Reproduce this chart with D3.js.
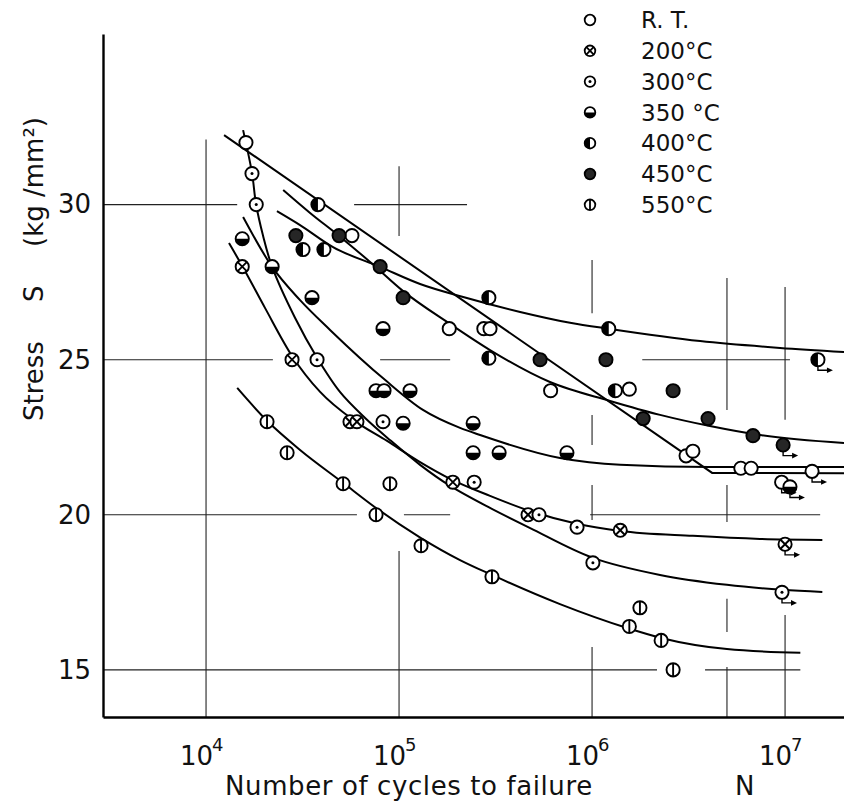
<!DOCTYPE html>
<html>
<head>
<meta charset="utf-8">
<script src="https://cdn.jsdelivr.net/npm/d3@7/dist/d3.min.js"></script>
<style>
  html, body { margin: 0; padding: 0; background: #fff; }
  svg { display: block; }
  text { font-family: "DejaVu Sans", "Liberation Sans", sans-serif; fill: #111; }
</style>
</head>
<body>
<svg id="chart" width="844" height="805"></svg>
<script>
// ---------------- data ----------------
const seriesNames = ["R. T.", "200\u00B0C", "300\u00B0C", "350 \u00B0C", "400\u00B0C", "450\u00B0C", "550\u00B0C"];
const seriesKeys  = ["rt", "t200", "t300", "t350", "t400", "t450", "t550"];

const xTickValues = [1e4, 1e5, 1e6, 1e7];
const xTickExponents = ["4", "5", "6", "7"];
const yTickValues = [15, 20, 25, 30];

// measured points [N, S]
const rtData = [[1.61e4,32.0],[5.7e4,29.0],[1.82e5,26.0],[2.75e5,26.0],[2.96e5,26.0],[6.1e5,24.0],[1.56e6,24.05],[3.07e6,21.9],[3.33e6,22.05],[5.9e6,21.5],[6.67e6,21.5]];
const rtRunout = [[9.6e6,21.05],[1.38e7,21.4]];
const t200Data = [[1.54e4,28.0],[2.79e4,25.0],[5.57e4,23.0],[6.05e4,23.0],[1.9e5,21.05],[4.66e5,20.0],[1.4e6,19.5]];
const t200Runout = [[1.0e7,19.05]];
const t300Data = [[1.73e4,31.0],[1.82e4,30.0],[3.76e4,25.0],[8.26e4,23.0],[2.45e5,21.05],[5.31e5,20.0],[8.36e5,19.6],[1.01e6,18.45]];
const t300Runout = [[9.64e6,17.5]];
const t350Data = [[1.54e4,28.9],[2.2e4,28.0],[3.54e4,27.0],[8.26e4,26.0],[7.6e4,24.0],[8.36e4,24.0],[1.14e5,24.0],[1.05e5,22.95],[2.42e5,22.95],[2.42e5,22.0],[3.3e5,22.0],[7.41e5,22.0]];
const t350Runout = [[1.06e7,20.9]];
const t400Data = [[3.8e4,30.0],[3.18e4,28.55],[4.08e4,28.55],[2.92e5,27.0],[2.92e5,25.05],[1.22e6,26.0],[1.32e6,24.0]];
const t400Runout = [[1.48e7,25.0]];
const t450Data = [[2.92e4,29.0],[4.89e4,29.0],[7.98e4,28.0],[1.05e5,27.0],[5.38e5,25.0],[1.18e6,25.0],[2.63e6,24.0],[1.84e6,23.1],[3.99e6,23.1],[6.82e6,22.55]];
const t450Runout = [[9.77e6,22.25]];
const t550Data = [[2.07e4,23.0],[2.63e4,22.0],[5.13e4,21.0],[8.97e4,21.0],[7.6e4,20.0],[1.3e5,19.0],[3.03e5,18.0],[1.77e6,17.0],[1.56e6,16.4],[2.28e6,15.95],[2.63e6,15.0]];

// fitted S-N curves [N, S]
const rtCurve = [[1.24e4,32.24],[4.19e6,21.35],[2.02e7,21.34]];
const t200Curve = [[1.315e4,28.76],[1.54e4,28.02],[2.02e4,26.67],[2.79e4,25.12],[3.9e4,23.96],[5.78e4,23.06],[8.67e4,22.38],[1.285e5,21.70],[1.84e5,21.16],[2.96e5,20.61],[4.78e5,20.12],[8.45e5,19.70],[1.4e6,19.48],[3.33e6,19.32],[7.41e6,19.22],[1.56e7,19.19]];
const t300Curve = [[1.556e4,32.40],[1.73e4,31.02],[1.815e4,30.02],[1.97e4,29.02],[2.2e4,27.99],[2.89e4,26.35],[3.76e4,25.06],[4.94e4,23.96],[6.67e4,23.12],[8.97e4,22.41],[1.285e5,21.61],[1.84e5,20.93],[2.96e5,20.22],[4.78e5,19.57],[1.01e6,18.61],[2.25e6,18.06],[5.0e6,17.74],[9.64e6,17.58],[1.56e7,17.51]];
const t350Curve = [[1.556e4,29.60],[2.2e4,27.99],[3.07e4,26.92],[4.39e4,25.96],[8.45e4,24.35],[1.33e5,23.38],[2.07e5,22.80],[2.63e5,22.57],[6.82e5,21.83],[1.4e6,21.61],[4.08e6,21.54],[2.02e7,21.54]];
const t400Curve = [[2.33e4,29.79],[3.07e4,29.34],[4.55e4,28.63],[7.98e4,27.99],[1.285e5,27.44],[2.15e5,27.02],[4.24e5,26.54],[7.69e5,26.19],[1.24e6,25.99],[3.63e6,25.60],[9.42e6,25.38],[2.02e7,25.25]];
const t450Curve = [[2.51e4,30.47],[3.46e4,29.73],[4.89e4,28.99],[7.08e4,28.15],[1.05e5,27.21],[1.84e5,26.15],[2.96e5,25.31],[6.05e5,24.28],[1.24e6,23.67],[2.25e6,23.22],[4.08e6,22.86],[7.41e6,22.57],[2.02e7,22.31]];
const t550Curve = [[1.45e4,24.09],[2.07e4,23.03],[3.07e4,22.09],[5.13e4,21.03],[7.6e4,20.22],[1.3e5,19.25],[2.07e5,18.54],[3.03e5,18.06],[6.82e5,17.12],[1.52e6,16.35],[2.28e6,16.03],[5.0e6,15.67],[1.2e7,15.55]];

// broken grid segments of the original figure
const vGridSegments = [[1e4,13.48,32.1],[1e5,28.99,31.24],[1e5,13.48,18.83],[1e6,26.5,28.21],[1e6,22.25,23.22],[1e6,19.83,20.96],[1e6,13.48,15.74],[5e6,23.38,27.63],[5e6,19.77,20.96],[5e6,16.22,17.29],[5e6,13.48,15.09],[1e7,23.06,27.34],[1e7,13.48,16.77]];
const hGridSegments = [[30,2925,1.45e4],[30,5.85e4,2.25e5],[25,2925,2.22e4],[25,7.98e4,1.84e5],[25,1.82e6,1.06e7],[20,2925,6.05e4],[20,1.06e5,1.84e5],[20,9.77e5,1.52e7],[15,2925,2.17e6],[15,3.85e6,1.2e7]];

// ---------------- chart ----------------
const svg = d3.select("#chart");
const x = d3.scaleLog().domain([2925, 2.02e7]).range([103, 844]);
const y = d3.scaleLinear().domain([13.48, 35.5]).range([717, 34]);

// grid
const grid = svg.append("g").attr("stroke", "#222").attr("stroke-width", 1.1);
grid.selectAll("line.v").data(vGridSegments).join("line")
  .attr("x1", d => x(d[0])).attr("x2", d => x(d[0]))
  .attr("y1", d => y(d[1])).attr("y2", d => y(d[2]));
grid.selectAll("line.h").data(hGridSegments).join("line")
  .attr("y1", d => y(d[0])).attr("y2", d => y(d[0]))
  .attr("x1", d => x(d[1])).attr("x2", d => x(d[2]));

// curves
const smooth = d3.line().x(d => x(d[0])).y(d => y(d[1])).curve(d3.curveMonotoneX);
const straight = d3.line().x(d => x(d[0])).y(d => y(d[1]));
const curves = svg.append("g").attr("fill", "none").attr("stroke", "#000").attr("stroke-width", 2);
curves.append("path").attr("d", straight(rtCurve));
[t200Curve, t350Curve, t400Curve, t450Curve, t550Curve].forEach(c => curves.append("path").attr("d", smooth(c)));
curves.append("path").attr("d", d3.line().x(d => x(d[0])).y(d => y(d[1])).curve(d3.curveCatmullRom.alpha(0.5))(t300Curve));

// axes
const xAxis = d3.axisBottom(x).tickValues(xTickValues).tickSize(0).tickPadding(22).tickFormat(() => "");
const gx = svg.append("g").attr("transform", "translate(0,717)").call(xAxis);
gx.select(".domain").attr("stroke", "#000").attr("stroke-width", 2.4);
gx.selectAll(".tick text").each(function(d, i) {
  const t = d3.select(this);
  t.attr("font-size", 26).attr("text-anchor", "end").attr("x", 0).attr("dy", "1.0em");
  t.append("tspan").text("10");
  t.append("tspan").attr("font-size", 18).attr("dy", "-0.8em").attr("dx", "-1").text(xTickExponents[i]);
});
gx.selectAll(".tick text").attr("transform", "translate(17,0)");

const yAxis = d3.axisLeft(y).tickValues(yTickValues).tickSize(0).tickPadding(12);
const gy = svg.append("g").attr("transform", "translate(103,0)").call(yAxis);
gy.select(".domain").attr("stroke", "#000").attr("stroke-width", 2.4);
gy.selectAll(".tick text").attr("font-size", 26).attr("fill", "#111");

// axis titles
svg.append("text").attr("x", 225).attr("y", 795).attr("font-size", 26).attr("letter-spacing", 0.6).text("Number of cycles to failure");
svg.append("text").attr("x", 735).attr("y", 795).attr("font-size", 26).text("N");
svg.append("text").attr("transform", "translate(43,421) rotate(-90)").attr("font-size", 26).text("Stress");
svg.append("text").attr("transform", "translate(43,302) rotate(-90)").attr("font-size", 26).text("S");
svg.append("text").attr("transform", "translate(43,247) rotate(-90)").attr("font-size", 26).text("(kg /mm\u00B2)");

// markers
function drawMarker(g, key, cx, cy, r, sw) {
  if (key === "t450") {
    g.append("circle").attr("cx", cx).attr("cy", cy).attr("r", r).attr("fill", "#262626").attr("stroke", "#000").attr("stroke-width", sw);
    return;
  }
  g.append("circle").attr("cx", cx).attr("cy", cy).attr("r", r).attr("fill", "#fff").attr("stroke", "#000").attr("stroke-width", sw);
  if (key === "t200") {
    const k = r * 0.72;
    g.append("path").attr("d", `M${cx-k},${cy-k}L${cx+k},${cy+k}M${cx-k},${cy+k}L${cx+k},${cy-k}`).attr("stroke", "#000").attr("stroke-width", sw);
  } else if (key === "t300") {
    g.append("circle").attr("cx", cx).attr("cy", cy).attr("r", 1.5).attr("fill", "#000");
  } else if (key === "t350") {
    g.append("path").attr("d", `M${cx-r},${cy}A${r},${r} 0 0 0 ${cx+r},${cy}Z`).attr("fill", "#000");
  } else if (key === "t400") {
    g.append("path").attr("d", `M${cx},${cy-r}A${r},${r} 0 0 0 ${cx},${cy+r}Z`).attr("fill", "#000");
  } else if (key === "t550") {
    g.append("line").attr("x1", cx).attr("x2", cx).attr("y1", cy - r).attr("y2", cy + r).attr("stroke", "#000").attr("stroke-width", sw);
  }
}
function drawRunout(g, cx, cy, r) {
  const yy = cy + r + 4;
  g.append("path").attr("d", `M${cx},${cy+r}L${cx},${yy}L${cx+11},${yy}`).attr("fill", "none").attr("stroke", "#000").attr("stroke-width", 1.4);
  g.append("path").attr("d", `M${cx+15},${yy}L${cx+9},${yy-2.8}L${cx+9},${yy+2.8}Z`).attr("fill", "#000");
}

const pointSets = {
  rt: [rtData, rtRunout], t200: [t200Data, t200Runout], t300: [t300Data, t300Runout],
  t350: [t350Data, t350Runout], t400: [t400Data, t400Runout], t450: [t450Data, t450Runout], t550: [t550Data, []]
};
const R = 6.6;
const marks = svg.append("g");
seriesKeys.forEach(key => {
  const [pts, runs] = pointSets[key];
  pts.forEach(d => drawMarker(marks, key, x(d[0]), y(d[1]), R, 1.9));
  runs.forEach(d => { drawRunout(marks, x(d[0]), y(d[1]), R); drawMarker(marks, key, x(d[0]), y(d[1]), R, 1.9); });
});

// legend
const legend = svg.append("g");
seriesKeys.forEach((key, i) => {
  const cy = 20 + i * 30.8;
  drawMarker(legend, key, 590, cy, 5.3, 1.8);
  legend.append("text").attr("x", 641).attr("y", cy).attr("dy", "0.36em").attr("font-size", 23).text(seriesNames[i]);
});
</script>
</body>
</html>
